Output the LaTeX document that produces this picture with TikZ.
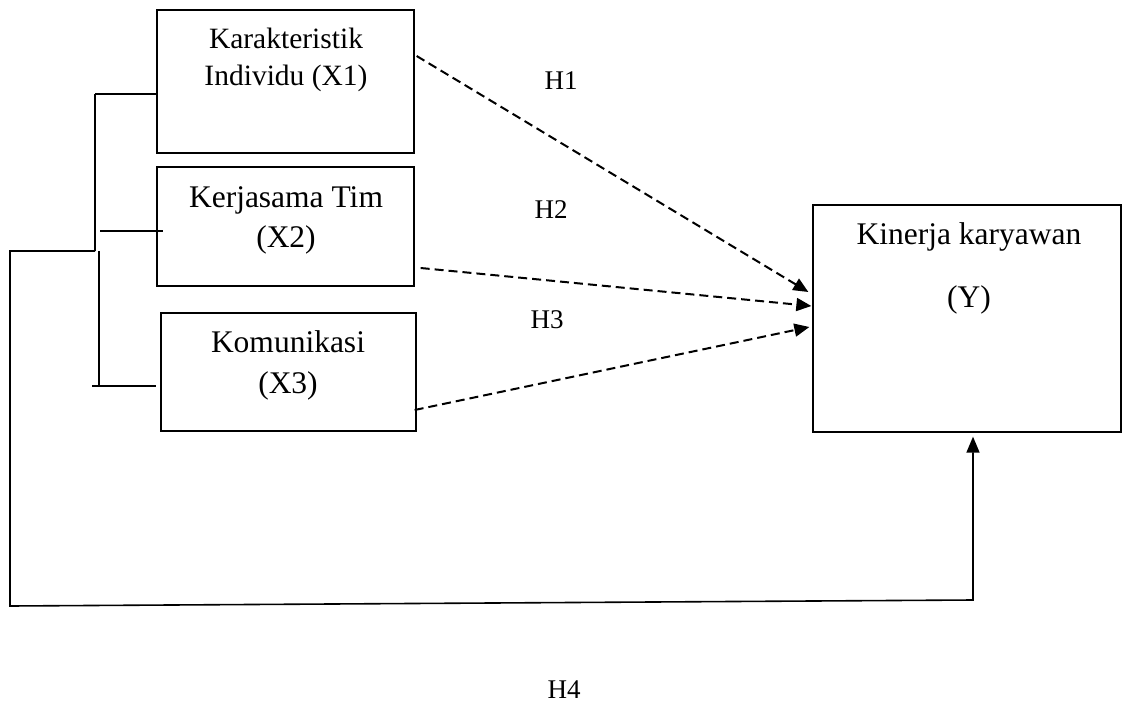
\documentclass[tikz,border=0pt]{standalone}
\usepackage{fontspec}
\setmainfont{Liberation Serif}
\usetikzlibrary{arrows,arrows.meta,positioning}

\begin{document}
\begin{tikzpicture}[x=1pt,y=-1pt, line width=1.3pt]
\tikzstyle{kotak}=[draw, rectangle, inner sep=0pt, line width=1.3pt]
\tikzstyle{teks}=[inner sep=0pt, anchor=base, font=\fontsize{31.5}{38}\selectfont]
\tikzstyle{kecil}=[inner sep=0pt, anchor=base, font=\fontsize{29.5}{36}\selectfont]
\tikzstyle{hipo}=[inner sep=0pt, anchor=base, font=\fontsize{27}{34}\selectfont]
\tikzstyle{garis}=[dash pattern=on 9pt off 5pt, line width=2pt, -{Triangle[length=15pt,width=13pt]}]
\useasboundingbox (0,0) rectangle (1122,704);
\node[kotak, minimum width=257pt, minimum height=143pt] (x1) at (285.5,81.5) {};
\node[kotak, minimum width=257pt, minimum height=119pt] (x2) at (285.5,226.5) {};
\node[kotak, minimum width=255pt, minimum height=118pt] (x3) at (288.5,372) {};
\node[kotak, minimum width=308pt, minimum height=227pt] (y) at (967,318.5) {};
\node[kecil] (t1a) at (286,48) {Karakteristik};
\node[kecil] (t1b) at (286,85) {Individu (X1)};
\node[teks] (t2a) at (286,207) {Kerjasama Tim};
\node[teks] (t2b) at (286,247) {(X2)};
\node[teks] (t3a) at (288,352) {Komunikasi};
\node[teks] (t3b) at (288,393) {(X3)};
\node[teks] (ta) at (969,244) {Kinerja karyawan};
\node[teks] (tb) at (969,307) {(Y)};
\node[hipo] (h1) at (561,89) {H1};
\node[hipo] (h2) at (551,218) {H2};
\node[hipo] (h3) at (547,328) {H3};
\node[hipo] (h4) at (564,698) {H4};
% hipotesis
\draw[garis] ([xshift=2pt,yshift=25.5pt]x1.east) -- ([xshift=-4pt,yshift=26.5pt]y.west);
\draw[garis] ([xshift=6pt,yshift=-41.5pt]x2.east) -- ([xshift=-1pt,yshift=12.5pt]y.west);
\draw[garis] ([xshift=-2pt,yshift=-38pt]x3.east) -- ([xshift=-3pt,yshift=-8.5pt]y.west);
% kurung kiri
\coordinate (a) at (95,94);
\coordinate (b) at (95,251);
\coordinate (c) at (99,251);
\coordinate (d) at (99,386);
\coordinate (e) at (10,251);
\coordinate (f) at (10,606);
\coordinate (g) at (973,600);
\draw (a) -- ([yshift=-12.5pt]x1.west);
\draw (a) -- (b);
\draw (c) -- (d);
\draw (100,231) -- ([xshift=7pt,yshift=-4.5pt]x2.west);
\draw (92,386) -- ([xshift=-4pt,yshift=-14pt]x3.west);
\draw[line width=1.6pt, -{Triangle[length=16pt,width=13pt]}] (b) -- (e) -- (f) -- (g) -- ([xshift=6pt,yshift=-4pt]y.south);
\end{tikzpicture}
\end{document}
